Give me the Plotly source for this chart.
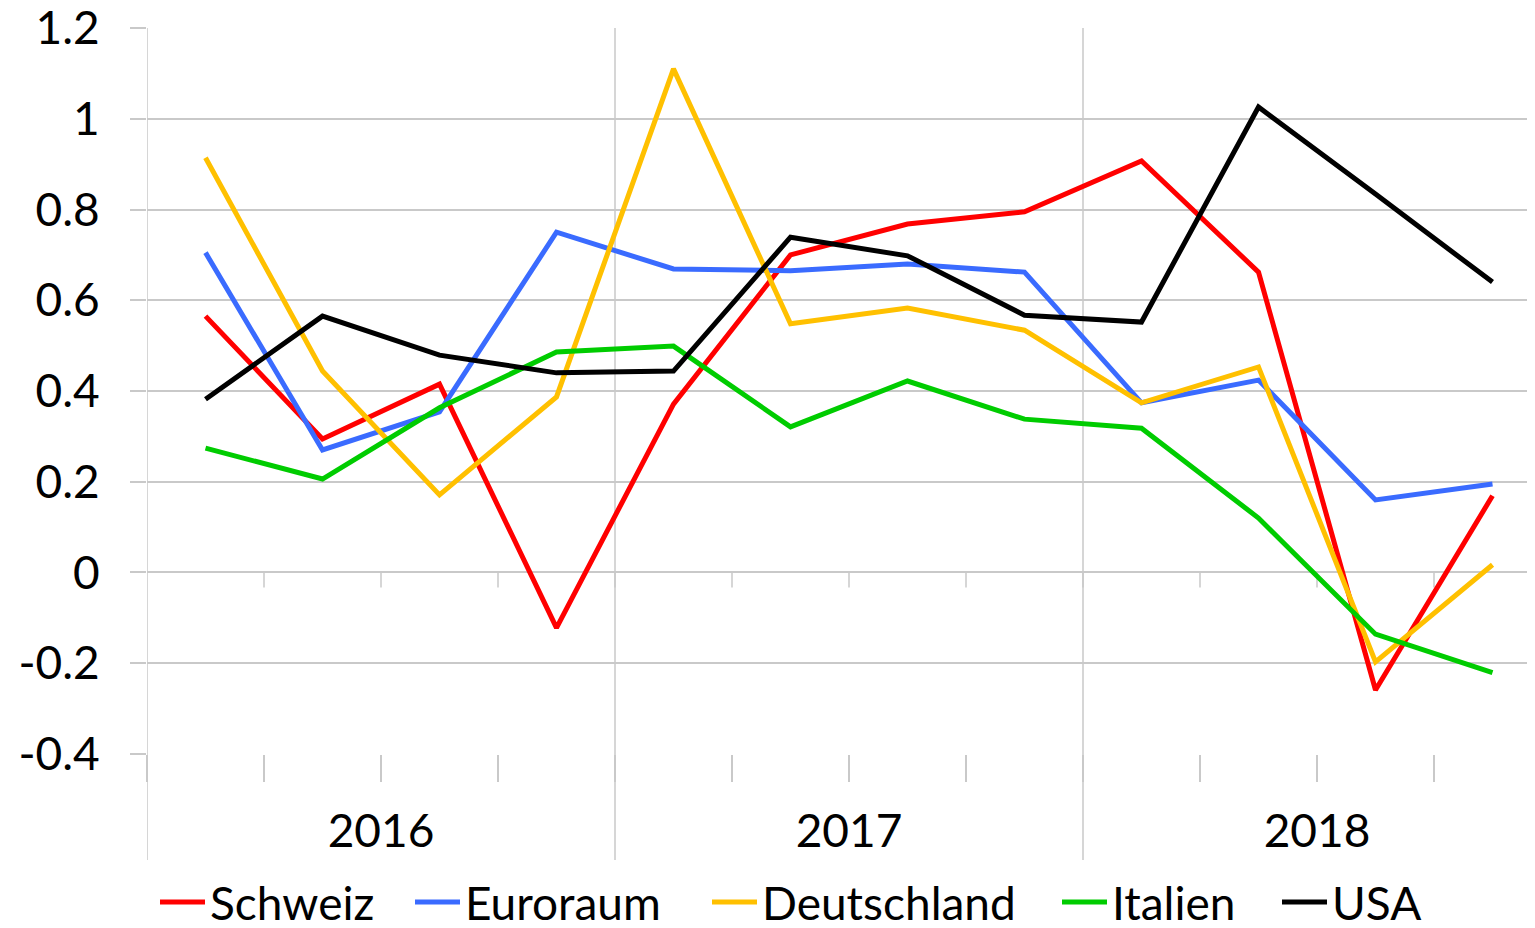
import plotly.graph_objects as go

quarters = ["2016 Q1", "2016 Q2", "2016 Q3", "2016 Q4",
            "2017 Q1", "2017 Q2", "2017 Q3", "2017 Q4",
            "2018 Q1", "2018 Q2", "2018 Q3", "2018 Q4"]
years = ["2016", "2017", "2018"]
y_ticks = [-0.4, -0.2, 0, 0.2, 0.4, 0.6, 0.8, 1, 1.2]
y_tick_labels = ["-0.4", "-0.2", "0", "0.2", "0.4", "0.6", "0.8", "1", "1.2"]

schweiz = [0.565, 0.294, 0.415, -0.122, 0.371, 0.700, 0.768, 0.795, 0.907, 0.662, -0.259, 0.169]
euroraum = [0.705, 0.270, 0.354, 0.750, 0.669, 0.665, 0.680, 0.662, 0.374, 0.424, 0.160, 0.195]
deutschland = [0.914, 0.444, 0.171, 0.387, 1.110, 0.548, 0.583, 0.534, 0.374, 0.453, -0.197, 0.017]
italien = [0.274, 0.206, 0.363, 0.486, 0.499, 0.321, 0.422, 0.338, 0.318, 0.120, -0.136, -0.221]
usa = [0.382, 0.565, 0.479, 0.440, 0.444, 0.739, 0.698, 0.567, 0.552, 1.026, 0.834, 0.640]

series = [
    ("Schweiz", schweiz, "#FF0000"),
    ("Euroraum", euroraum, "#3A6BFF"),
    ("Deutschland", deutschland, "#FFC000"),
    ("Italien", italien, "#00CC00"),
    ("USA", usa, "#000000"),
]

# page offset (default body margin of the html page)
OFF = 8
# left pixel position (on screen) of each legend entry
legend_px = [160, 415, 712, 1062, 1282]
LEGEND_Y = 902

x = list(range(len(quarters)))
GRID = "#C9C9C9"
FONT = "Lato"
FIG_W, FIG_H = 1535 - OFF, 960
L, T, W, H = 147 - OFF, 28 - OFF, FIG_W - (147 - OFF), 726

fig = go.Figure()
legend_layout = {}
for i, (name, vals, col) in enumerate(series):
    lname = "legend" if i == 0 else f"legend{i+1}"
    fig.add_trace(go.Scatter(x=x, y=vals, name=name, mode="lines",
                             text=quarters, legend=lname,
                             line=dict(color=col, width=5)))
    legend_layout[lname] = dict(
        x=(legend_px[i] - OFF - L - 5) / W, xanchor="left",
        y=(T + H - (LEGEND_Y - OFF)) / H, yanchor="middle",
        orientation="h", itemwidth=45, bgcolor="rgba(0,0,0,0)",
        borderwidth=0,
        font=dict(family=FONT, size=46, color="#000000"))

shapes = []
for i in range(len(years) + 1):
    xb = i * 4 - 0.5
    if xb > len(quarters) - 0.7:
        continue
    shapes.append(dict(type="line", xref="x", yref="paper", x0=xb, x1=xb,
                       y0=-(860 - 754) / H, y1=1,
                       line=dict(color=GRID, width=1.5), layer="below"))
for k in range(1, len(quarters)):
    xb = k - 0.5
    shapes.append(dict(type="line", xref="x", yref="y", ysizemode="pixel", yanchor=0,
                       x0=xb, x1=xb, y0=0, y1=-15,
                       line=dict(color=GRID, width=1.5), layer="below"))

x_right = -0.5 + W / 117.0

fig.update_layout(
    width=FIG_W, height=FIG_H,
    margin=dict(l=L, r=0, t=T, b=FIG_H - T - H),
    paper_bgcolor="white", plot_bgcolor="white",
    font=dict(family=FONT, size=46, color="#000000"),
    showlegend=True,
    shapes=shapes,
    xaxis=dict(range=[-0.5, x_right], showgrid=False, zeroline=False, showline=False,
               automargin=False, ticklabeloverflow="allow",
               tickmode="array", tickvals=[1.5, 5.5, 9.5], ticktext=years,
               ticks="", ticklabelstandoff=46,
               tickfont=dict(family=FONT, size=46, color="#000000"),
               minor=dict(tickmode="linear", tick0=0.5, dtick=1, ticks="outside",
                          ticklen=27, tickwidth=1.5, tickcolor=GRID, showgrid=False)),
    yaxis=dict(range=[-0.4001, 1.2001], tickmode="array", tickvals=y_ticks, ticktext=y_tick_labels,
               showgrid=True, gridcolor=GRID, gridwidth=1.5, zeroline=False,
               automargin=False, ticklabeloverflow="allow",
               showline=False, ticks="outside", ticklen=16, tickcolor=GRID, tickwidth=1.5,
               ticklabelstandoff=21,
               tickfont=dict(family=FONT, size=46, color="#000000")),
    **legend_layout,
)

fig.write_html("out.html")
